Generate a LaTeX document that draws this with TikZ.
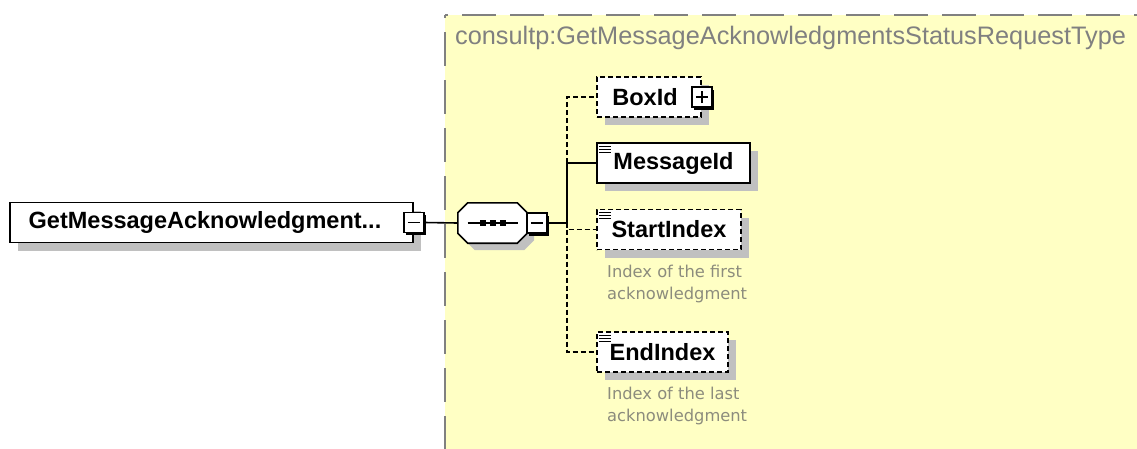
\documentclass[tikz,border=0pt]{standalone}
\usepackage{fontspec}
\setmainfont{Liberation Sans}
\newfontfamily\descfont{DejaVu Sans}
\usetikzlibrary{shadows}

\definecolor{typeyellow}{RGB}{255,255,196}
\definecolor{typeborder}{RGB}{128,128,128}
\definecolor{shadowgray}{RGB}{192,192,192}
\definecolor{desctext}{RGB}{140,140,125}

\tikzset{
  elem/.style={draw, line width=1.6pt, fill=white, minimum height=40pt, inner sep=0pt,
    font=\fontsize{23.5}{28}\selectfont\bfseries,
    drop shadow={shadow xshift=8pt, shadow yshift=-8pt, fill=shadowgray, opacity=1}},
  optional/.style={dash pattern=on 5pt off 3pt},
  btn/.style={draw, line width=1.4pt, fill=white, minimum size=20pt, inner sep=0pt,
    drop shadow={shadow xshift=2.5pt, shadow yshift=-2.5pt, fill=black, opacity=1}},
  minusbtn/.style={btn, path picture={
    \draw[line width=1.4pt] ([xshift=-6pt]path picture bounding box.center) -- ([xshift=6pt]path picture bounding box.center);}},
  plusbtn/.style={btn, path picture={
    \draw[line width=1.4pt] ([xshift=-6pt]path picture bounding box.center) -- ([xshift=6pt]path picture bounding box.center);
    \draw[line width=1.4pt] ([yshift=-6pt]path picture bounding box.center) -- ([yshift=6pt]path picture bounding box.center);}},
  seqbox/.style={minimum width=69pt, minimum height=40pt, inner sep=0pt},
  octagon/.style={draw, line width=1.6pt, fill=white,
    drop shadow={shadow xshift=7pt, shadow yshift=-7pt, fill=shadowgray, opacity=1}},
  conn/.style={line width=1.6pt},
  desc/.style={anchor=north west, inner sep=0pt, align=left, text=desctext,
    font=\descfont\fontsize{16.3}{21.5}\selectfont},
}

\begin{document}
\begin{tikzpicture}[x=1pt,y=-1pt]
  \useasboundingbox (0,0) rectangle (1137,448);
  \clip (0,0) rectangle (1137,448);

  % Tipo
  \fill[typeyellow] (445,15) rectangle (1170,480);
  \draw[typeborder, line width=2pt, dash pattern=on 34pt off 14pt, dash phase=31pt] (445,15) -- (445,480);
  \draw[typeborder, line width=2pt, dash pattern=on 34pt off 14pt, dash phase=31pt] (445,15) -- (1170,15);
  \node[font=\fontsize{25.3}{30}\selectfont, text=typeborder, anchor=west, inner sep=0pt] (typename) at (455,38)
    {consultp:GetMessageAcknowledgmentsStatusRequestType};

  % Raiz e sequencia
  \node[elem, minimum width=403pt] (root) at (211.5,222.5) {GetMessageAcknowledgment...\hspace*{13pt}};
  \node[minusbtn] (rootbtn) at (root.east) {};
  \node[seqbox] (seq) at (492.5,223) {};
  \draw[octagon] ([xshift=10pt]seq.north west) -- ([xshift=-10pt]seq.north east)
    -- ([yshift=-10pt]seq.north east) -- ([yshift=10pt]seq.south east)
    -- ([xshift=-10pt]seq.south east) -- ([xshift=10pt]seq.south west)
    -- ([yshift=10pt]seq.south west) -- ([yshift=-10pt]seq.north west) -- cycle;
  \node[minusbtn, anchor=west] (seqbtn) at ([xshift=-1pt]seq.east) {};
  \draw[line width=1.4pt] ([xshift=-25pt]seq.center) -- ([xshift=25pt]seq.center);
  \foreach \dx in {-10,0,10}
    \fill ([xshift=\dx pt]seq.center) ++(-3,-3) rectangle ++(6,6);
  \coordinate (trunk) at (567,223);

  % Elementos
  \node[elem, optional, minimum width=104pt] (boxid) at (649,97) {BoxId\hspace*{8pt}};
  \node[plusbtn] (boxbtn) at (boxid.east) {};
  \node[elem, minimum width=153pt] (msgid) at (673.5,163) {MessageId};
  \node[elem, optional, minimum width=144pt] (startidx) at (669,229.5) {StartIndex};
  \node[elem, optional, minimum width=131pt] (endidx) at (662.5,352) {EndIndex};
  \foreach \n in {msgid,startidx,endidx}
    \foreach \dy in {4,7,10}
      \draw[line width=1.1pt] ([shift={(3,\dy)}]\n.north west) -- ++(12,0);

  % Descricoes
  \node[desc] (startdesc) at (607,265) {Index of the first\\acknowledgment};
  \node[desc] (enddesc) at (607,387) {Index of the last\\acknowledgment};

  % Ligacoes
  \draw[conn] (rootbtn.east) -- (seq.west);
  \draw[conn] (seqbtn.east) -- (trunk);
  \draw[conn] (trunk) |- (msgid.west);
  \draw[conn, optional] (trunk |- msgid.west) |- (boxid.west);
  \draw[conn, optional] (trunk) |- (startidx.west);
  \draw[conn, optional] (trunk |- startidx.west) |- (endidx.west);
\end{tikzpicture}
\end{document}
